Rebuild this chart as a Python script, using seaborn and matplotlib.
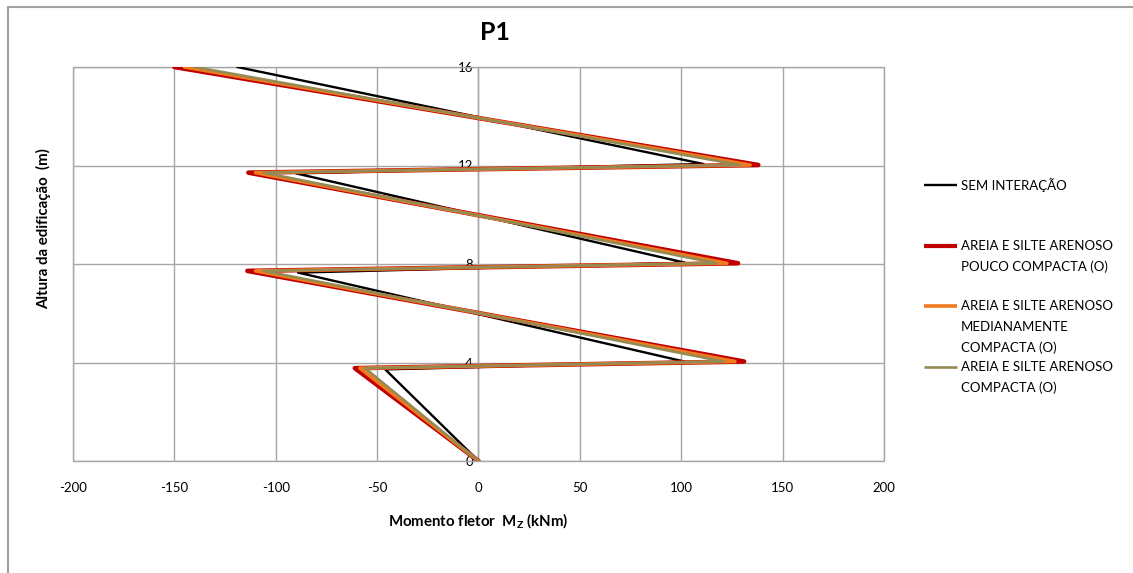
import numpy as np
import pandas as pd
import matplotlib
matplotlib.use("Agg")
import matplotlib.pyplot as plt
import seaborn as sns
from matplotlib.lines import Line2D
from matplotlib.patches import Rectangle

# ---------------- data ----------------
altura_sem = [0.0, 3.72, 4.03, 7.65, 8.05, 11.68, 12.06, 16.0]
momento_sem = [0.0, -46.0, 102.0, -89.0, 102.0, -90.0, 111.0, -119.0]

altura_pouco = [0.0, 3.77, 4.04, 7.72, 8.03, 11.71, 12.02, 16.0]
momento_pouco = [0.0, -61.0, 131.0, -114.0, 128.0, -113.5, 138.0, -150.0]

altura_medi = [0.0, 3.77, 4.04, 7.72, 8.03, 11.71, 12.02, 16.0]
momento_medi = [0.0, -58.5, 126.5, -110.0, 122.5, -110.0, 134.0, -145.0]

altura_comp = [0.0, 3.77, 4.04, 7.72, 8.03, 11.71, 12.02, 16.0]
momento_comp = [0.0, -56.0, 121.0, -106.0, 117.5, -106.0, 129.0, -140.0]

series_labels = [
    "SEM INTERAÇÃO",
    "AREIA E SILTE ARENOSO\nPOUCO COMPACTA (O)",
    "AREIA E SILTE ARENOSO\nMEDIANAMENTE\nCOMPACTA (O)",
    "AREIA E SILTE ARENOSO\nCOMPACTA (O)",
]
x_ticks = [-200, -150, -100, -50, 0, 50, 100, 150, 200]
y_ticks = [0, 4, 8, 12, 16]

# ---------------- style ----------------
sns.set_theme(style="white")
plt.rcParams["font.family"] = ["Lato", "DejaVu Sans"]
plt.rcParams["mathtext.fontset"] = "custom"
plt.rcParams["mathtext.rm"] = "Lato:bold"
plt.rcParams["mathtext.it"] = "Lato:bold"
plt.rcParams["mathtext.bf"] = "Lato:bold"
plt.rcParams["mathtext.default"] = "rm"

colors = ["#000000", "#C00000", "#F07A1E", "#948A54"]
widths = [1.7, 3.3, 2.6, 1.9]

W, H = 1133, 573
fig = plt.figure(figsize=(W / 100, H / 100), dpi=100)
fig.patch.set_facecolor("white")

def fx(px):
    return px / W

def fy(py):
    return 1 - py / H

ax = fig.add_axes([fx(73), fy(461), fx(884) - fx(73), fy(67) - fy(461)])
ax.set_facecolor("white")

datasets = [
    (momento_sem, altura_sem),
    (momento_pouco, altura_pouco),
    (momento_medi, altura_medi),
    (momento_comp, altura_comp),
]
for (m, a), c, lw, lab in zip(datasets, colors, widths, series_labels):
    df = pd.DataFrame({"Momento": m, "Altura": a})
    sns.lineplot(data=df, x="Momento", y="Altura", sort=False, estimator=None,
                 color=c, linewidth=lw, ax=ax, legend=False,
                 solid_joinstyle="round", solid_capstyle="round", zorder=3)

ax.set_xlim(-200, 200)
ax.set_ylim(0, 16)
ax.set_xticks(x_ticks)
ax.set_yticks(y_ticks)
ax.set_xticklabels([str(t) for t in x_ticks])
ax.set_yticklabels([str(t) for t in y_ticks])
ax.grid(True, color="#A6A6A6", linewidth=1.0, zorder=0)
ax.set_axisbelow(True)

for s in ["top", "right", "bottom"]:
    ax.spines[s].set_visible(False)
ax.spines["left"].set_position(("data", 0))
ax.spines["left"].set_color("#A6A6A6")
ax.spines["left"].set_linewidth(1.0)
ax.add_patch(Rectangle((0, 0), 1, 1, transform=ax.transAxes, fill=False,
                       edgecolor="#A6A6A6", linewidth=1.0, zorder=1, clip_on=False))

ax.tick_params(axis="x", length=0, pad=15, labelsize=9.5, labelcolor="#000000")
ax.tick_params(axis="y", length=0, pad=4, labelsize=9.5, labelcolor="#000000")
ax.set_xlabel("")
ax.set_ylabel("")

# titles / axis labels
fig.text(fx(495), fy(32), "P1", ha="center", va="center", fontsize=18,
         fontweight="bold", color="#000000")
fig.text(fx(478), fy(521), r"Momento fletor  M$_\mathrm{Z}$ (kNm)", ha="center",
         va="center", fontsize=10.8, fontweight="bold", color="#000000")
fig.text(fx(44), fy(229), "Altura da edificação  (m)", ha="center", va="center",
         rotation=90, fontsize=10.8, fontweight="bold", color="#000000")

# legend drawn manually (handle aligned with first text line)
leg_y = [185, 246, 306, 367]
line_step = 20.7
for lab, c, lw, y in zip(series_labels, colors, widths, leg_y):
    fig.add_artist(Line2D([fx(924), fx(957)], [fy(y), fy(y)], color=c,
                          linewidth=min(lw, 3.0), solid_capstyle="butt"))
    for i, part in enumerate(lab.split("\n")):
        fig.text(fx(961), fy(y + i * line_step), part, ha="left", va="center",
                 fontsize=9.5, color="#000000")

# chart-area border (top and left visible)
fig.add_artist(Line2D([fx(8), fx(8)], [fy(7), 0], color="#A0A0A0", linewidth=1.5))
fig.add_artist(Line2D([fx(8), 1], [fy(7), fy(7)], color="#A0A0A0", linewidth=1.5))

fig.savefig("out.png", dpi=100, facecolor="white")
